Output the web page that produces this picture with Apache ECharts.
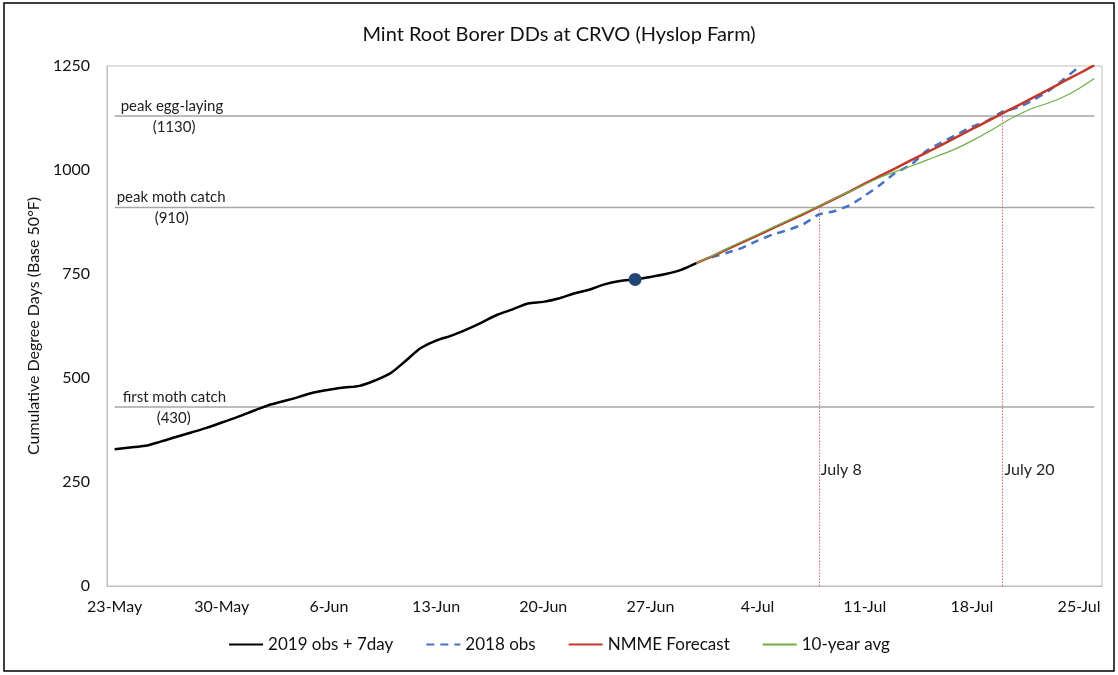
<!DOCTYPE html>
<html>
<head>
<meta charset="utf-8">
<script src="https://cdn.jsdelivr.net/npm/echarts@6/dist/echarts.min.js"></script>
<style>
html,body{margin:0;padding:0;background:#fff;}
#chart{width:1118px;height:675px;}
</style>
</head>
<body>
<div id="chart"></div>
<script>
// ---- Data ----
const dates = ['23-May','24-May','25-May','26-May','27-May','28-May','29-May','30-May','31-May',
  '1-Jun','2-Jun','3-Jun','4-Jun','5-Jun','6-Jun','7-Jun','8-Jun','9-Jun','10-Jun','11-Jun','12-Jun',
  '13-Jun','14-Jun','15-Jun','16-Jun','17-Jun','18-Jun','19-Jun','20-Jun','21-Jun','22-Jun','23-Jun',
  '24-Jun','25-Jun','26-Jun','27-Jun','28-Jun','29-Jun','30-Jun',
  '1-Jul','2-Jul','3-Jul','4-Jul','5-Jul','6-Jul','7-Jul','8-Jul','9-Jul','10-Jul','11-Jul','12-Jul',
  '13-Jul','14-Jul','15-Jul','16-Jul','17-Jul','18-Jul','19-Jul','20-Jul','21-Jul','22-Jul','23-Jul',
  '24-Jul','25-Jul','26-Jul'];

// 2019 obs + 7day, starting 23-May
const obs2019Start = '23-May';
const obs2019 = [329,333,337,347,358,369,380,393,406,420,434,444,454,465,472,477,481,494,511,541,
  572,590,602,617,634,652,665,679,683,691,703,712,725,733,737,743,750,760,776];

// Current-day marker
const todayDate = '26-Jun';

// 2018 obs, starting 1-Jul
const obs2018Start = '1-Jul';
const obs2018 = [790,801,813,830,845,856,870,893,901,915,938,964,993,1012,1045,1066,1085,1104,1118,
  1140,1150,1168,1190,1218,1248];

// NMME forecast, starting 30-Jun
const nmmeStart = '30-Jun';
const nmme = [776,792,809,826,843,860,877,894,912,930,948,967,986,1004,1023,1041,1060,1079,1098,
  1117,1136,1155,1174,1193,1213,1232,1252];

// 10-year average, starting 30-Jun
const avgStart = '30-Jun';
const avg10 = [776,793,811,828,845,862,879,896,913,931,948,965,982,996,1009,1023,1037,1052,1070,
  1090,1112,1132,1149,1161,1176,1196,1220];

// Thresholds
const thresholdNames = ['peak egg-laying','peak moth catch','first moth catch'];
const thresholdValues = [1130, 910, 430];

// Event dates (vertical lines)
const eventDates = ['8-Jul','20-Jul'];
const eventLabels = ['July 8','July 20'];
const eventValues = [910, 1130];

const seriesNames = ['2019 obs + 7day','2018 obs','NMME Forecast','10-year avg'];
const yTicks = {min:0, max:1250, interval:250};

// ---- Helpers ----
function pad(start, vals){
  const i0 = dates.indexOf(start);
  return dates.map((d,i)=> (i>=i0 && i-i0<vals.length) ? vals[i-i0] : null);
}

const FONT = 'Lato, "Open Sans", sans-serif';
const chart = echarts.init(document.getElementById('chart'), null, {renderer:'canvas'});

const thresholdSeries = thresholdValues.map((v,k)=>({
  name: 'th'+k, type:'line', data: dates.map(()=>v), symbol:'none',
  lineStyle:{color:'#a6a6a6', width:1.5}, silent:true, z:1,
  markLine: k===0 ? {
    symbol:'none', silent:true, label:{show:false},
    lineStyle:{color:'#e06666', width:1, type:[1.5,1.5]},
    data: eventDates.map((d,j)=>[{coord:[d,0]},{coord:[d,eventValues[j]]}])
  } : undefined
}));

const option = {
  animation:false,
  backgroundColor:'#fff',
  title:{text:'Mint Root Borer DDs at CRVO (Hyslop Farm)', left:'center', top:20,
    textStyle:{fontFamily:FONT, fontSize:20, fontWeight:'normal', color:'#111'}},
  grid:{left:107, right:16, top:66, bottom:89, show:true, borderColor:'#bfbfbf', borderWidth:1},
  legend:{
    data:seriesNames, bottom:17, left:'center', itemWidth:34, itemHeight:14, itemGap:32,
    itemStyle:{opacity:0},
    textStyle:{fontFamily:FONT, fontSize:17, color:'#111'}
  },
  xAxis:{
    type:'category', data:dates, boundaryGap:true,
    axisLine:{lineStyle:{color:'#bfbfbf'}}, axisTick:{show:false},
    axisLabel:{interval:(i)=> i%7===0, fontFamily:FONT, fontSize:16, color:'#111', margin:13},
    splitLine:{show:false}
  },
  yAxis:{
    type:'value', min:yTicks.min, max:yTicks.max, interval:yTicks.interval,
    name:'Cumulative Degree Days (Base 50°F)', nameLocation:'middle', nameGap:56,
    nameTextStyle:{fontFamily:FONT, fontSize:16, color:'#111'},
    axisLine:{show:true, lineStyle:{color:'#bfbfbf'}}, axisTick:{show:false},
    axisLabel:{fontFamily:FONT, fontSize:16, color:'#111', margin:17, formatter:(v)=>String(v)},
    splitLine:{show:false}
  },
  series:[
    ...thresholdSeries,
    {name:seriesNames[1], type:'line', data:pad(obs2018Start, obs2018), symbol:'none', z:3,
      smooth:0.2, lineStyle:{color:'#4472c4', width:2.5, type:[8,6]}, itemStyle:{color:'#4472c4'}},
    {name:seriesNames[2], type:'line', data:pad(nmmeStart, nmme), symbol:'none', z:4,
      smooth:0.2, lineStyle:{color:'#c0392b', width:2.5}, itemStyle:{color:'#c0392b'}},
    {name:seriesNames[3], type:'line', data:pad(avgStart, avg10), symbol:'none', z:5,
      smooth:0.2, lineStyle:{color:'#70ad47', width:1.2}, itemStyle:{color:'#70ad47'}},
    {name:seriesNames[0], type:'line', data:pad(obs2019Start, obs2019), symbol:'none', z:6,
      smooth:0.3, lineStyle:{color:'#000', width:2.5}, itemStyle:{color:'#000'}},
    {name:'today', type:'scatter', z:7, symbolSize:13,
      data:[[todayDate, obs2019[dates.indexOf(todayDate)-dates.indexOf(obs2019Start)]]],
      itemStyle:{color:'#234477', opacity:1}}
  ]
};
chart.setOption(option);

// ---- Annotations positioned from data ----
const g = [];
const txt = (x,y,text,size)=>({type:'text', x, y, silent:true,
  style:{text, fill:'#222', font:(size||15)+'px '+FONT, textAlign:'left', textVerticalAlign:'middle'}});
thresholdValues.forEach((v,k)=>{
  const p = chart.convertToPixel({gridIndex:0}, [dates[0], v]);
  const nameOff = [6, 2, 8][k];
  const valOff = [38, 40, 42][k];
  g.push(txt(p[0]+nameOff, p[1]-10, thresholdNames[k]));
  g.push(txt(p[0]+valOff, p[1]+11, '('+v+')'));
});
eventDates.forEach((d,j)=>{
  const p = chart.convertToPixel({gridIndex:0}, [d, 279]);
  g.push(txt(p[0]+2, p[1], eventLabels[j], 16));
});
g.push({type:'rect', shape:{x:4, y:3, width:1110, height:668}, silent:true,
  style:{fill:'none', stroke:'#000', lineWidth:1.5}});
chart.setOption({graphic:g});
</script>
</body>
</html>
